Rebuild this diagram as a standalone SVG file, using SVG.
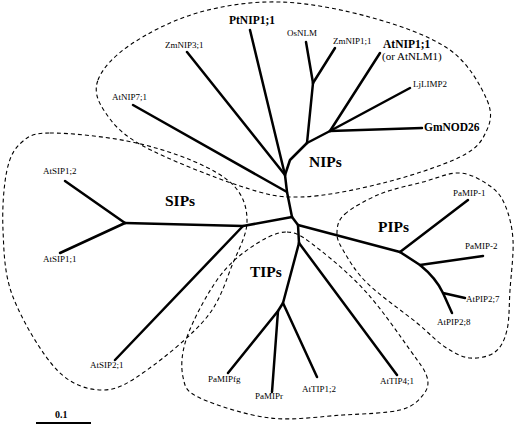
<svg xmlns="http://www.w3.org/2000/svg" width="520" height="427" viewBox="0 0 520 427">
<style>
.br{fill:none;stroke:#000;stroke-width:2.5;stroke-linecap:round;stroke-linejoin:round}
.out{fill:none;stroke:#000;stroke-width:1.1;stroke-dasharray:4 3}
.lb{font-family:"Liberation Serif","Times New Roman",serif;font-size:9px;fill:#000}
.bl{font-family:"Liberation Serif","Times New Roman",serif;font-size:11.5px;font-weight:bold;fill:#000}
.gl{font-family:"Liberation Serif","Times New Roman",serif;font-size:15.5px;font-weight:bold;fill:#000}
</style>
<rect width="520" height="427" fill="#fff"/>
<g id="clusters">
<g id="NIPs">
<path class="out" d="M98,80 C102.2,68.8 113.5,56.2 130,45 C146.5,33.8 172,20.2 197,13 C222,5.8 250.7,1.2 280,2 C309.3,2.8 344.7,10 373,18 C401.3,26 431,36.3 450,50 C469,63.7 481,86.3 487,100 C493,113.7 490.5,122.5 486,132 C481.5,141.5 477.2,148.5 460,157 C442.8,165.5 409.7,176.3 383,183 C356.3,189.7 323.8,196.5 300,197 C276.2,197.5 266.2,194.5 240,186 C213.8,177.5 165.5,158.3 143,146 C120.5,133.7 112.5,123 105,112 C97.5,101 93.8,91.2 98,80 Z"/>
<text class="gl" x="309" y="167">NIPs</text>
</g>
<g id="SIPs">
<path class="out" d="M50,133 C67.5,132.8 103.2,136.3 127,141 C150.8,145.7 175,153.3 193,161 C211,168.7 226,176.8 235,187 C244,197.2 247.3,209.3 247,222 C246.7,234.7 239.7,247.2 233,263 C226.3,278.8 221.3,299.2 207,317 C192.7,334.8 164.3,357.8 147,370 C129.7,382.2 118,390 103,390 C88,390 72,385.5 57,370 C42,354.5 22,320.3 13,297 C4,273.7 4,251.2 3,230 C2,208.8 3.8,184.7 7,170 C10.2,155.3 14.8,148.2 22,142 C29.2,135.8 32.5,133.2 50,133 Z"/>
<text class="gl" x="165" y="206">SIPs</text>
</g>
<g id="TIPs">
<path class="out" d="M287,232 C298.7,232.3 306.7,239.8 320,250 C333.3,260.2 352,276.3 367,293 C382,309.7 400,336 410,350 C420,364 424.8,369.5 427,377 C429.2,384.5 427.5,389.5 423,395 C418.5,400.5 413.3,406.7 400,410 C386.7,413.3 364.7,413.7 343,415 C321.3,416.3 293.8,420.8 270,418 C246.2,415.2 214.5,404.8 200,398 C185.5,391.2 185.2,387.2 183,377 C180.8,366.8 181.3,353.2 187,337 C192.7,320.8 206.5,294.8 217,280 C227.5,265.2 238.3,256 250,248 C261.7,240 275.3,231.7 287,232 Z"/>
<text class="gl" x="250" y="277">TIPs</text>
</g>
<g id="PIPs">
<path class="out" d="M345,214 C352.2,207.7 367,199.3 380,194 C393,188.7 409.7,185.5 423,182 C436.3,178.5 448.8,172.3 460,173 C471.2,173.7 482.5,180.7 490,186 C497.5,191.3 501.2,196 505,205 C508.8,214 512.2,225.8 513,240 C513.8,254.2 511,275 510,290 C509,305 509.5,319.7 507,330 C504.5,340.3 501.2,347.3 495,352 C488.8,356.7 478.3,358.8 470,358 C461.7,357.2 453.8,352.8 445,347 C436.2,341.2 430,333.7 417,323 C404,312.3 379.3,295.2 367,283 C354.7,270.8 348,258.5 343,250 C338,241.5 336.7,238 337,232 C337.3,226 337.8,220.3 345,214 Z"/>
<text class="gl" x="378" y="232">PIPs</text>
</g>
</g>
<g id="connectors">
<polyline class="br" points="292,217 287,192 285,175 290,160 307,143"/>
<line class="br" x1="250" y1="30" x2="285" y2="175"/>
<line class="br" x1="187" y1="52" x2="285" y2="175"/>
<line class="br" x1="133" y1="105" x2="287" y2="192"/>
<line class="br" x1="307" y1="143" x2="313" y2="83"/>
<line class="br" x1="306" y1="42" x2="313" y2="83"/>
<line class="br" x1="335" y1="48" x2="313" y2="83"/>
<line class="br" x1="307" y1="143" x2="330" y2="131"/>
<line class="br" x1="380" y1="53" x2="330" y2="131"/>
<line class="br" x1="410" y1="88" x2="330" y2="131"/>
<line class="br" x1="330" y1="131" x2="422" y2="128"/>
<polyline class="br" points="292,217 243,226 125,223"/>
<line class="br" x1="65" y1="181" x2="125" y2="223"/>
<line class="br" x1="60" y1="253" x2="125" y2="223"/>
<line class="br" x1="243" y1="226" x2="115" y2="360"/>
<polyline class="br" points="292,217 298,225 299,243"/>
<line class="br" x1="298" y1="225" x2="400" y2="252"/>
<line class="br" x1="400" y1="252" x2="468" y2="200"/>
<polyline class="br" points="400,252 420,265 483,256"/>
<path class="br" d="M420,265 Q436,278 443,293 L465,298"/>
<line class="br" x1="443" y1="293" x2="452" y2="313"/>
<polyline class="br" points="299,243 283,303 317,377"/>
<polyline class="br" points="283,303 278,311 228,373"/>
<line class="br" x1="278" y1="311" x2="272" y2="392"/>
<line class="br" x1="299" y1="243" x2="397" y2="375"/>
</g>
<g id="leaf-ZmNIP3_1"><text class="lb" x="165" y="48">ZmNIP3;1</text></g>
<g id="leaf-PtNIP1_1"><text class="bl" x="229" y="24">PtNIP1;1</text></g>
<g id="leaf-OsNLM"><text class="lb" x="287" y="36">OsNLM</text></g>
<g id="leaf-ZmNIP1_1"><text class="lb" x="333" y="44">ZmNIP1;1</text></g>
<g id="leaf-AtNIP1_1"><text class="bl" x="383" y="48">AtNIP1;1</text><text class="lb" style="font-size:11px" x="382" y="60">(or AtNLM1)</text></g>
<g id="leaf-LjLIMP2"><text class="lb" x="413" y="87">LjLIMP2</text></g>
<g id="leaf-GmNOD26"><text class="bl" x="424" y="131">GmNOD26</text></g>
<g id="leaf-AtNIP7_1"><text class="lb" x="112" y="100">AtNIP7;1</text></g>
<g id="leaf-AtSIP1_2"><text class="lb" x="43" y="174">AtSIP1;2</text></g>
<g id="leaf-AtSIP1_1"><text class="lb" x="43" y="262">AtSIP1;1</text></g>
<g id="leaf-AtSIP2_1"><text class="lb" x="90" y="368">AtSIP2;1</text></g>
<g id="leaf-PaMIPfg"><text class="lb" x="208" y="382">PaMIPfg</text></g>
<g id="leaf-PaMIPr"><text class="lb" x="255" y="399">PaMIPr</text></g>
<g id="leaf-AtTIP1_2"><text class="lb" x="302" y="392">AtTIP1;2</text></g>
<g id="leaf-AtTIP4_1"><text class="lb" x="380" y="384">AtTIP4;1</text></g>
<g id="leaf-PaMIP-1"><text class="lb" x="453" y="196">PaMIP-1</text></g>
<g id="leaf-PaMIP-2"><text class="lb" x="465" y="249">PaMIP-2</text></g>
<g id="leaf-AtPIP2_7"><text class="lb" x="466" y="302">AtPIP2;7</text></g>
<g id="leaf-AtPIP2_8"><text class="lb" x="437" y="325">AtPIP2;8</text></g>
<g id="scale">
<line x1="36" y1="423" x2="91" y2="423" stroke="#000" stroke-width="2"/>
<text class="bl" style="font-size:10px" x="55" y="418">0.1</text>
</g>
</svg>
